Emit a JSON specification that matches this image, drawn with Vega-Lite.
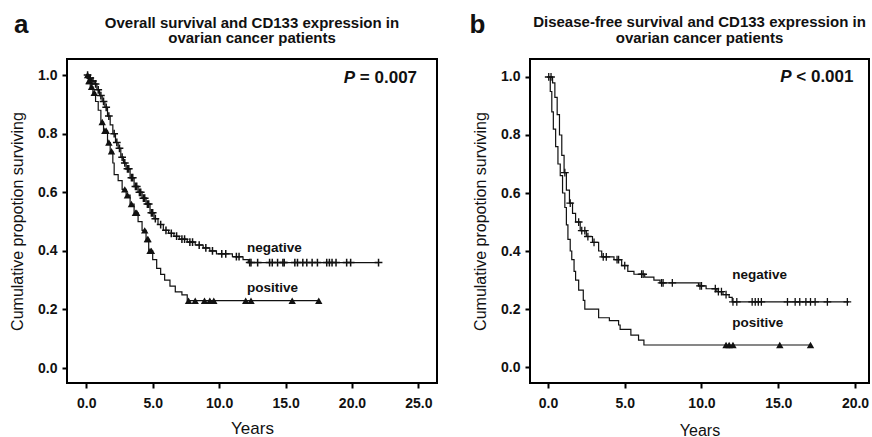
{
  "$schema": "https://vega.github.io/schema/vega-lite/v6.json",
  "background": "white",
  "padding": {"left": 8, "top": 10, "right": 3, "bottom": 0},
  "spacing": 30,
  "config": {
    "font": "Liberation Sans",
    "view": {"stroke": "black", "strokeWidth": 2},
    "axis": {
      "labelFont": "Liberation Sans", "labelFontWeight": "bold", "labelFontSize": 14, "labelColor": "#111",
      "tickColor": "black", "tickWidth": 2, "tickSize": 5, "domain": false, "grid": false,
      "titleFont": "Liberation Sans", "titleFontWeight": "normal", "titleColor": "#111"
    },
    "title": {"font": "Liberation Sans", "fontWeight": "bold", "fontSize": 15, "color": "#111", "anchor": "middle", "lineHeight": 15.5, "offset": -34}
  },
  "datasets": {
    "a_steps": [
      {"group": "negative", "t": 0, "s": 1.0}, {"group": "negative", "t": 0.2, "s": 0.99}, {"group": "negative", "t": 0.4, "s": 0.98}, {"group": "negative", "t": 0.6, "s": 0.97}, {"group": "negative", "t": 0.8, "s": 0.95}, {"group": "negative", "t": 1.0, "s": 0.93}, {"group": "negative", "t": 1.2, "s": 0.91}, {"group": "negative", "t": 1.4, "s": 0.89}, {"group": "negative", "t": 1.6, "s": 0.86}, {"group": "negative", "t": 1.8, "s": 0.83}, {"group": "negative", "t": 2.0, "s": 0.80}, {"group": "negative", "t": 2.2, "s": 0.77}, {"group": "negative", "t": 2.4, "s": 0.75}, {"group": "negative", "t": 2.6, "s": 0.72}, {"group": "negative", "t": 2.8, "s": 0.70}, {"group": "negative", "t": 3.0, "s": 0.68}, {"group": "negative", "t": 3.3, "s": 0.65}, {"group": "negative", "t": 3.6, "s": 0.62}, {"group": "negative", "t": 3.9, "s": 0.60}, {"group": "negative", "t": 4.2, "s": 0.58}, {"group": "negative", "t": 4.5, "s": 0.56}, {"group": "negative", "t": 4.8, "s": 0.53}, {"group": "negative", "t": 5.1, "s": 0.51}, {"group": "negative", "t": 5.4, "s": 0.49}, {"group": "negative", "t": 5.8, "s": 0.47}, {"group": "negative", "t": 6.2, "s": 0.46}, {"group": "negative", "t": 6.6, "s": 0.45}, {"group": "negative", "t": 7.0, "s": 0.44}, {"group": "negative", "t": 7.6, "s": 0.43}, {"group": "negative", "t": 8.2, "s": 0.42}, {"group": "negative", "t": 8.8, "s": 0.41}, {"group": "negative", "t": 9.3, "s": 0.40}, {"group": "negative", "t": 9.8, "s": 0.39}, {"group": "negative", "t": 11.0, "s": 0.38}, {"group": "negative", "t": 11.8, "s": 0.37}, {"group": "negative", "t": 12.2, "s": 0.36}, {"group": "negative", "t": 22.0, "s": 0.36},
      {"group": "positive", "t": 0, "s": 1.0}, {"group": "positive", "t": 0.15, "s": 0.98}, {"group": "positive", "t": 0.3, "s": 0.96}, {"group": "positive", "t": 0.5, "s": 0.94}, {"group": "positive", "t": 0.7, "s": 0.91}, {"group": "positive", "t": 0.9, "s": 0.88}, {"group": "positive", "t": 1.1, "s": 0.84}, {"group": "positive", "t": 1.3, "s": 0.81}, {"group": "positive", "t": 1.6, "s": 0.77}, {"group": "positive", "t": 1.8, "s": 0.74}, {"group": "positive", "t": 2.0, "s": 0.70}, {"group": "positive", "t": 2.1, "s": 0.66}, {"group": "positive", "t": 2.4, "s": 0.64}, {"group": "positive", "t": 2.7, "s": 0.61}, {"group": "positive", "t": 3.0, "s": 0.59}, {"group": "positive", "t": 3.3, "s": 0.56}, {"group": "positive", "t": 3.6, "s": 0.53}, {"group": "positive", "t": 3.9, "s": 0.50}, {"group": "positive", "t": 4.2, "s": 0.47}, {"group": "positive", "t": 4.5, "s": 0.44}, {"group": "positive", "t": 4.7, "s": 0.40}, {"group": "positive", "t": 5.0, "s": 0.37}, {"group": "positive", "t": 5.3, "s": 0.34}, {"group": "positive", "t": 5.6, "s": 0.32}, {"group": "positive", "t": 5.9, "s": 0.30}, {"group": "positive", "t": 6.3, "s": 0.28}, {"group": "positive", "t": 6.7, "s": 0.26}, {"group": "positive", "t": 7.2, "s": 0.25}, {"group": "positive", "t": 7.6, "s": 0.23}, {"group": "positive", "t": 17.5, "s": 0.23}
    ],
    "a_cens": [
      {"group": "negative", "t": 0.1, "s": 1.0}, {"group": "negative", "t": 0.3, "s": 0.99}, {"group": "negative", "t": 0.5, "s": 0.98}, {"group": "negative", "t": 0.7, "s": 0.97}, {"group": "negative", "t": 0.9, "s": 0.95}, {"group": "negative", "t": 1.1, "s": 0.93}, {"group": "negative", "t": 1.3, "s": 0.91}, {"group": "negative", "t": 1.5, "s": 0.89}, {"group": "negative", "t": 1.7, "s": 0.86}, {"group": "negative", "t": 2.1, "s": 0.80}, {"group": "negative", "t": 2.3, "s": 0.77}, {"group": "negative", "t": 2.5, "s": 0.75}, {"group": "negative", "t": 2.7, "s": 0.72}, {"group": "negative", "t": 2.9, "s": 0.70}, {"group": "negative", "t": 3.1, "s": 0.68}, {"group": "negative", "t": 3.2, "s": 0.68}, {"group": "negative", "t": 3.4, "s": 0.65}, {"group": "negative", "t": 3.5, "s": 0.65}, {"group": "negative", "t": 3.7, "s": 0.62}, {"group": "negative", "t": 3.8, "s": 0.62}, {"group": "negative", "t": 4.0, "s": 0.60}, {"group": "negative", "t": 4.1, "s": 0.60}, {"group": "negative", "t": 4.3, "s": 0.58}, {"group": "negative", "t": 4.4, "s": 0.58}, {"group": "negative", "t": 4.6, "s": 0.56}, {"group": "negative", "t": 4.7, "s": 0.56}, {"group": "negative", "t": 4.9, "s": 0.53}, {"group": "negative", "t": 5.0, "s": 0.53}, {"group": "negative", "t": 5.2, "s": 0.51}, {"group": "negative", "t": 5.6, "s": 0.49}, {"group": "negative", "t": 6.0, "s": 0.47}, {"group": "negative", "t": 6.4, "s": 0.46}, {"group": "negative", "t": 6.8, "s": 0.45}, {"group": "negative", "t": 7.2, "s": 0.44}, {"group": "negative", "t": 7.4, "s": 0.44}, {"group": "negative", "t": 7.8, "s": 0.43}, {"group": "negative", "t": 8.0, "s": 0.43}, {"group": "negative", "t": 8.5, "s": 0.42}, {"group": "negative", "t": 9.0, "s": 0.41}, {"group": "negative", "t": 9.5, "s": 0.40}, {"group": "negative", "t": 10.2, "s": 0.39}, {"group": "negative", "t": 10.5, "s": 0.39}, {"group": "negative", "t": 11.3, "s": 0.38}, {"group": "negative", "t": 11.5, "s": 0.38}, {"group": "negative", "t": 12.3, "s": 0.36}, {"group": "negative", "t": 12.4, "s": 0.36}, {"group": "negative", "t": 12.9, "s": 0.36}, {"group": "negative", "t": 13.8, "s": 0.36}, {"group": "negative", "t": 14.0, "s": 0.36}, {"group": "negative", "t": 14.4, "s": 0.36}, {"group": "negative", "t": 14.8, "s": 0.36}, {"group": "negative", "t": 14.9, "s": 0.36}, {"group": "negative", "t": 15.7, "s": 0.36}, {"group": "negative", "t": 15.9, "s": 0.36}, {"group": "negative", "t": 16.3, "s": 0.36}, {"group": "negative", "t": 16.6, "s": 0.36}, {"group": "negative", "t": 17.0, "s": 0.36}, {"group": "negative", "t": 17.4, "s": 0.36}, {"group": "negative", "t": 18.1, "s": 0.36}, {"group": "negative", "t": 18.3, "s": 0.36}, {"group": "negative", "t": 18.5, "s": 0.36}, {"group": "negative", "t": 18.8, "s": 0.36}, {"group": "negative", "t": 19.6, "s": 0.36}, {"group": "negative", "t": 19.9, "s": 0.36}, {"group": "negative", "t": 22.0, "s": 0.36},
      {"group": "positive", "t": 0.1, "s": 1.0}, {"group": "positive", "t": 0.2, "s": 0.98}, {"group": "positive", "t": 0.25, "s": 0.98}, {"group": "positive", "t": 0.4, "s": 0.96}, {"group": "positive", "t": 0.6, "s": 0.94}, {"group": "positive", "t": 1.2, "s": 0.84}, {"group": "positive", "t": 1.4, "s": 0.81}, {"group": "positive", "t": 1.5, "s": 0.81}, {"group": "positive", "t": 1.7, "s": 0.77}, {"group": "positive", "t": 1.9, "s": 0.74}, {"group": "positive", "t": 2.9, "s": 0.61}, {"group": "positive", "t": 3.1, "s": 0.59}, {"group": "positive", "t": 3.4, "s": 0.56}, {"group": "positive", "t": 3.7, "s": 0.53}, {"group": "positive", "t": 3.8, "s": 0.53}, {"group": "positive", "t": 4.4, "s": 0.47}, {"group": "positive", "t": 4.6, "s": 0.44}, {"group": "positive", "t": 4.65, "s": 0.44}, {"group": "positive", "t": 4.8, "s": 0.40}, {"group": "positive", "t": 4.9, "s": 0.40}, {"group": "positive", "t": 7.7, "s": 0.23}, {"group": "positive", "t": 8.2, "s": 0.23}, {"group": "positive", "t": 8.9, "s": 0.23}, {"group": "positive", "t": 9.3, "s": 0.23}, {"group": "positive", "t": 9.6, "s": 0.23}, {"group": "positive", "t": 12.0, "s": 0.23}, {"group": "positive", "t": 12.4, "s": 0.23}, {"group": "positive", "t": 15.5, "s": 0.23}, {"group": "positive", "t": 17.5, "s": 0.23}
    ],
    "b_steps": [
      {"group": "negative", "t": 0, "s": 1.0}, {"group": "negative", "t": 0.3, "s": 0.98}, {"group": "negative", "t": 0.45, "s": 0.93}, {"group": "negative", "t": 0.6, "s": 0.87}, {"group": "negative", "t": 0.75, "s": 0.80}, {"group": "negative", "t": 0.9, "s": 0.73}, {"group": "negative", "t": 1.05, "s": 0.67}, {"group": "negative", "t": 1.2, "s": 0.61}, {"group": "negative", "t": 1.4, "s": 0.565}, {"group": "negative", "t": 1.6, "s": 0.53}, {"group": "negative", "t": 1.8, "s": 0.50}, {"group": "negative", "t": 2.1, "s": 0.47}, {"group": "negative", "t": 2.5, "s": 0.45}, {"group": "negative", "t": 2.9, "s": 0.43}, {"group": "negative", "t": 3.3, "s": 0.40}, {"group": "negative", "t": 3.5, "s": 0.38}, {"group": "negative", "t": 4.3, "s": 0.37}, {"group": "negative", "t": 4.8, "s": 0.35}, {"group": "negative", "t": 5.2, "s": 0.33}, {"group": "negative", "t": 5.6, "s": 0.32}, {"group": "negative", "t": 6.3, "s": 0.31}, {"group": "negative", "t": 6.9, "s": 0.30}, {"group": "negative", "t": 7.3, "s": 0.29}, {"group": "negative", "t": 9.8, "s": 0.28}, {"group": "negative", "t": 10.3, "s": 0.27}, {"group": "negative", "t": 11.0, "s": 0.26}, {"group": "negative", "t": 11.4, "s": 0.25}, {"group": "negative", "t": 11.8, "s": 0.24}, {"group": "negative", "t": 12.0, "s": 0.225}, {"group": "negative", "t": 19.6, "s": 0.225},
      {"group": "positive", "t": 0, "s": 1.0}, {"group": "positive", "t": 0.15, "s": 0.95}, {"group": "positive", "t": 0.25, "s": 0.88}, {"group": "positive", "t": 0.35, "s": 0.82}, {"group": "positive", "t": 0.5, "s": 0.76}, {"group": "positive", "t": 0.65, "s": 0.70}, {"group": "positive", "t": 0.8, "s": 0.66}, {"group": "positive", "t": 0.95, "s": 0.60}, {"group": "positive", "t": 1.1, "s": 0.55}, {"group": "positive", "t": 1.2, "s": 0.49}, {"group": "positive", "t": 1.3, "s": 0.44}, {"group": "positive", "t": 1.45, "s": 0.40}, {"group": "positive", "t": 1.55, "s": 0.37}, {"group": "positive", "t": 1.7, "s": 0.33}, {"group": "positive", "t": 1.8, "s": 0.30}, {"group": "positive", "t": 2.0, "s": 0.265}, {"group": "positive", "t": 2.3, "s": 0.23}, {"group": "positive", "t": 2.4, "s": 0.20}, {"group": "positive", "t": 3.3, "s": 0.17}, {"group": "positive", "t": 4.0, "s": 0.16}, {"group": "positive", "t": 4.6, "s": 0.145}, {"group": "positive", "t": 4.7, "s": 0.13}, {"group": "positive", "t": 5.4, "s": 0.11}, {"group": "positive", "t": 5.9, "s": 0.093}, {"group": "positive", "t": 6.25, "s": 0.076}, {"group": "positive", "t": 17.1, "s": 0.076}
    ],
    "b_cens": [
      {"group": "negative", "t": 0.05, "s": 1.0}, {"group": "negative", "t": 0.2, "s": 1.0}, {"group": "negative", "t": 1.1, "s": 0.67}, {"group": "negative", "t": 1.45, "s": 0.565}, {"group": "negative", "t": 2.0, "s": 0.50}, {"group": "negative", "t": 2.2, "s": 0.47}, {"group": "negative", "t": 2.4, "s": 0.47}, {"group": "negative", "t": 2.6, "s": 0.45}, {"group": "negative", "t": 3.0, "s": 0.43}, {"group": "negative", "t": 3.6, "s": 0.38}, {"group": "negative", "t": 3.8, "s": 0.38}, {"group": "negative", "t": 4.5, "s": 0.37}, {"group": "negative", "t": 4.6, "s": 0.37}, {"group": "negative", "t": 5.0, "s": 0.35}, {"group": "negative", "t": 6.1, "s": 0.32}, {"group": "negative", "t": 6.2, "s": 0.32}, {"group": "negative", "t": 7.4, "s": 0.29}, {"group": "negative", "t": 7.5, "s": 0.29}, {"group": "negative", "t": 8.1, "s": 0.29}, {"group": "negative", "t": 9.9, "s": 0.28}, {"group": "negative", "t": 10.0, "s": 0.28}, {"group": "negative", "t": 10.9, "s": 0.27}, {"group": "negative", "t": 11.1, "s": 0.26}, {"group": "negative", "t": 11.3, "s": 0.26}, {"group": "negative", "t": 11.6, "s": 0.25}, {"group": "negative", "t": 12.05, "s": 0.225}, {"group": "negative", "t": 12.3, "s": 0.225}, {"group": "negative", "t": 13.3, "s": 0.225}, {"group": "negative", "t": 13.5, "s": 0.225}, {"group": "negative", "t": 13.7, "s": 0.225}, {"group": "negative", "t": 13.9, "s": 0.225}, {"group": "negative", "t": 15.6, "s": 0.225}, {"group": "negative", "t": 16.1, "s": 0.225}, {"group": "negative", "t": 16.4, "s": 0.225}, {"group": "negative", "t": 16.8, "s": 0.225}, {"group": "negative", "t": 17.1, "s": 0.225}, {"group": "negative", "t": 17.4, "s": 0.225}, {"group": "negative", "t": 18.2, "s": 0.225}, {"group": "negative", "t": 19.5, "s": 0.225},
      {"group": "positive", "t": 11.6, "s": 0.076}, {"group": "positive", "t": 11.8, "s": 0.076}, {"group": "positive", "t": 12.05, "s": 0.076}, {"group": "positive", "t": 15.1, "s": 0.076}, {"group": "positive", "t": 17.1, "s": 0.076}
    ],
    "a_notes": [
      {"label": "negative", "t": 12.1, "s": 0.41}, {"label": "positive", "t": 12.1, "s": 0.273}
    ],
    "b_notes": [
      {"label": "negative", "t": 12.0, "s": 0.317}, {"label": "positive", "t": 12.0, "s": 0.152}
    ],
    "a_p": [{"p": "P", "v": "= 0.007", "t": 24.9, "s": 0.99, "letter": "a", "lt": -4.9, "ls": 1.17}],
    "b_p": [{"p": "P", "v": "< 0.001", "t": 19.9, "s": 1.0, "letter": "b", "lt": -4.6, "ls": 1.18}]
  },
  "hconcat": [
    {
      "width": 370, "height": 324,
      "title": {"text": ["Overall survival and CD133 expression in", "ovarian cancer patients"]},
      "encoding": {
        "x": {"field": "t", "type": "quantitative", "scale": {"domain": [-1.45, 26.4], "nice": false, "zero": false},
              "axis": {"values": [0, 5, 10, 15, 20, 25], "format": ".1f", "title": "Years", "titleFontSize": 17, "labelPadding": 8, "titlePadding": 10}},
        "y": {"field": "s", "type": "quantitative", "scale": {"domain": [-0.051, 1.055], "nice": false, "zero": false},
              "axis": {"values": [0, 0.2, 0.4, 0.6, 0.8, 1.0], "format": ".1f", "title": "Cumulative propotion surviving", "titleFontSize": 16, "labelPadding": 5, "titlePadding": 12}}
      },
      "layer": [
        {"data": {"name": "a_steps"}, "mark": {"type": "line", "interpolate": "step-after", "color": "#111", "strokeWidth": 1.2}, "encoding": {"detail": {"field": "group"}}},
        {"data": {"name": "a_cens"}, "transform": [{"filter": "datum.group === 'negative'"}], "mark": {"type": "point", "shape": "M-1,0H1M0,-1V1", "size": 60, "stroke": "#111", "strokeWidth": 1.5, "opacity": 1}},
        {"data": {"name": "a_cens"}, "transform": [{"filter": "datum.group === 'positive'"}], "mark": {"type": "point", "shape": "triangle-up", "size": 55, "filled": true, "color": "#111", "opacity": 1}},
        {"data": {"name": "a_notes"}, "mark": {"type": "text", "align": "left", "baseline": "middle", "fontSize": 13.5, "fontWeight": "bold", "color": "#111"}, "encoding": {"text": {"field": "label"}}},
        {"data": {"name": "a_p"}, "mark": {"type": "text", "align": "right", "baseline": "middle", "fontSize": 17, "fontWeight": "bold", "color": "#111"}, "encoding": {"text": {"field": "v"}}},
        {"data": {"name": "a_p"}, "mark": {"type": "text", "align": "right", "baseline": "middle", "fontSize": 17, "fontWeight": "bold", "fontStyle": "italic", "color": "#111", "dx": -62}, "encoding": {"text": {"field": "p"}}},
        {"data": {"name": "a_p"}, "mark": {"type": "text", "align": "center", "baseline": "middle", "fontSize": 26, "fontWeight": "bold", "color": "#111"}, "encoding": {"text": {"field": "letter"}, "x": {"field": "lt", "type": "quantitative"}, "y": {"field": "ls", "type": "quantitative"}}}
      ]
    },
    {
      "width": 339, "height": 324,
      "title": {"text": ["Disease-free survival and CD133 expression in", "ovarian cancer patients"]},
      "encoding": {
        "x": {"field": "t", "type": "quantitative", "scale": {"domain": [-1.17, 20.91], "nice": false, "zero": false},
              "axis": {"values": [0, 5, 10, 15, 20], "format": ".1f", "title": "Years", "titleFontSize": 16, "labelPadding": 8, "titlePadding": 12}},
        "y": {"field": "s", "type": "quantitative", "scale": {"domain": [-0.055, 1.062], "nice": false, "zero": false},
              "axis": {"values": [0, 0.2, 0.4, 0.6, 0.8, 1.0], "format": ".1f", "title": "Cumulative propotion surviving", "titleFontSize": 16, "labelPadding": 5, "titlePadding": 12}}
      },
      "layer": [
        {"data": {"name": "b_steps"}, "mark": {"type": "line", "interpolate": "step-after", "color": "#111", "strokeWidth": 1.2}, "encoding": {"detail": {"field": "group"}}},
        {"data": {"name": "b_cens"}, "transform": [{"filter": "datum.group === 'negative'"}], "mark": {"type": "point", "shape": "M-1,0H1M0,-1V1", "size": 60, "stroke": "#111", "strokeWidth": 1.3, "opacity": 1}},
        {"data": {"name": "b_cens"}, "transform": [{"filter": "datum.group === 'positive'"}], "mark": {"type": "point", "shape": "triangle-up", "size": 55, "filled": true, "color": "#111", "opacity": 1}},
        {"data": {"name": "b_notes"}, "mark": {"type": "text", "align": "left", "baseline": "middle", "fontSize": 13.5, "fontWeight": "bold", "color": "#111"}, "encoding": {"text": {"field": "label"}}},
        {"data": {"name": "b_p"}, "mark": {"type": "text", "align": "right", "baseline": "middle", "fontSize": 17, "fontWeight": "bold", "color": "#111"}, "encoding": {"text": {"field": "v"}}},
        {"data": {"name": "b_p"}, "mark": {"type": "text", "align": "right", "baseline": "middle", "fontSize": 17, "fontWeight": "bold", "fontStyle": "italic", "color": "#111", "dx": -62}, "encoding": {"text": {"field": "p"}}},
        {"data": {"name": "b_p"}, "mark": {"type": "text", "align": "center", "baseline": "middle", "fontSize": 26, "fontWeight": "bold", "color": "#111"}, "encoding": {"text": {"field": "letter"}, "x": {"field": "lt", "type": "quantitative"}, "y": {"field": "ls", "type": "quantitative"}}}
      ]
    }
  ]
}
